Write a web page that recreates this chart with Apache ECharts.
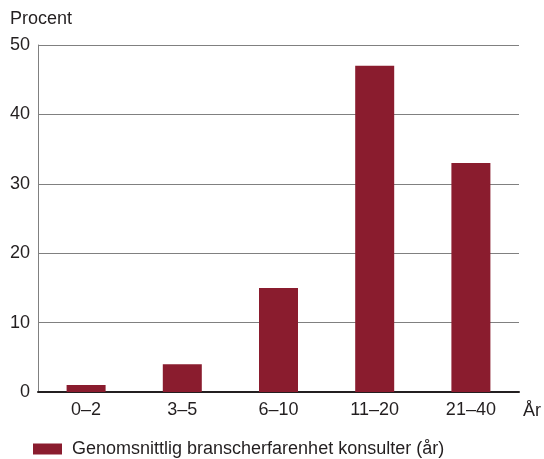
<!DOCTYPE html>
<html>
<head>
<meta charset="utf-8">
<script src="https://cdn.jsdelivr.net/npm/echarts@6/dist/echarts.min.js"></script>
<style>
  html, body { margin: 0; padding: 0; background: #fff; }
  #chart { width: 544px; height: 459px; }
</style>
</head>
<body>
<div id="chart"></div>
<script>
// Andel konsulter per intervall av branscherfarenhet
const categories = ['0–2', '3–5', '6–10', '11–20', '21–40'];
const values = [1, 4, 15, 47, 33];
const seriesName = 'Genomsnittlig branscherfarenhet konsulter (år)';
const yTicks = [0, 10, 20, 30, 40, 50];

const font = 'Liberation Sans, Arial, sans-serif';
const textColor = '#231f20';
const fs = 18;

const chart = echarts.init(document.getElementById('chart'), null, { renderer: 'canvas' });
chart.setOption({
  animation: false,
  backgroundColor: '#ffffff',
  textStyle: { fontFamily: font },
  title: {
    text: 'Procent',
    left: 5,
    top: 5,
    textStyle: { fontFamily: font, fontSize: fs, fontWeight: 'normal', color: textColor }
  },
  legend: {
    left: 33,
    top: 440,
    padding: 0,
    itemWidth: 29,
    itemHeight: 11,
    itemGap: 10,
    icon: 'rect',
    textStyle: { fontFamily: font, fontSize: fs, color: textColor, padding: [0, 0, 0, 5] },
    data: [seriesName]
  },
  grid: { left: 38, right: 24, top: 45, bottom: 67, containLabel: false },
  xAxis: {
    type: 'category',
    data: categories,
    name: 'År',
    nameLocation: 'end',
    nameGap: 4,
    nameTextStyle: {
      fontFamily: font, fontSize: fs, color: textColor,
      align: 'left', verticalAlign: 'top', padding: [10, 0, 0, 0]
    },
    axisLine: { show: true, lineStyle: { color: '#231f20', width: 2 } },
    axisTick: { show: false },
    axisLabel: { fontFamily: font, fontSize: fs, color: textColor, margin: 9 },
    splitLine: { show: false }
  },
  yAxis: {
    type: 'value',
    min: yTicks[0],
    max: yTicks[yTicks.length - 1],
    interval: yTicks[1] - yTicks[0],
    axisLine: { show: true, lineStyle: { color: '#808080', width: 1 } },
    axisTick: { show: false },
    axisLabel: { fontFamily: font, fontSize: fs, color: textColor, margin: 8 },
    splitLine: { show: true, lineStyle: { color: '#808080', width: 1 } }
  },
  series: [{
    name: seriesName,
    type: 'bar',
    data: values,
    barWidth: 39,
    itemStyle: { color: '#8a1c2e' }
  }]
});
</script>
</body>
</html>
